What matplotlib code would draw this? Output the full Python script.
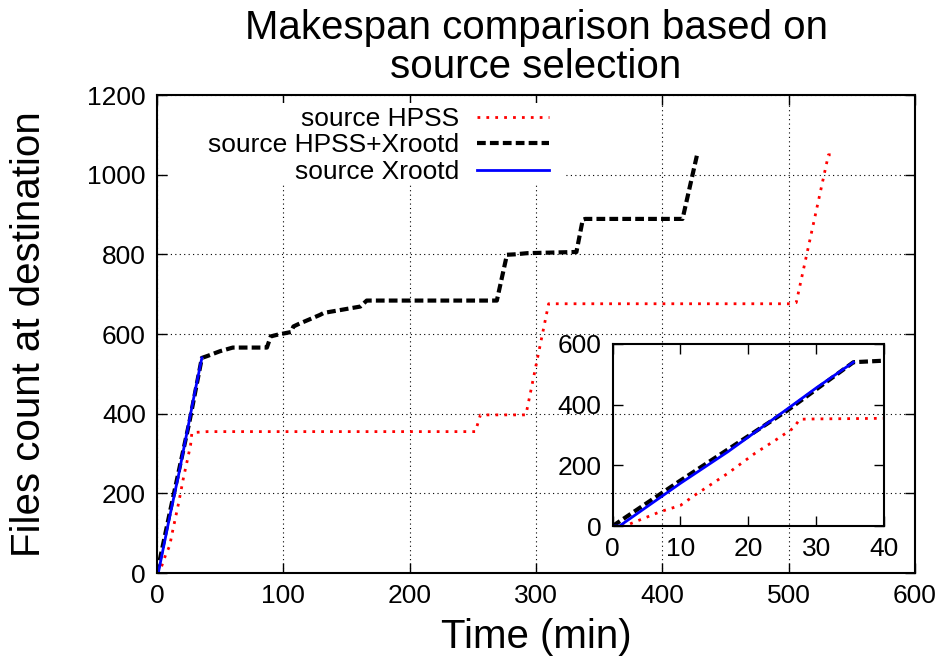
import matplotlib
matplotlib.use("Agg")
import matplotlib.pyplot as plt
from matplotlib.patches import Rectangle

plt.rcParams['font.family'] = ['Liberation Sans', 'DejaVu Sans']

# ---- data (time in minutes, cumulative files at destination) ----
hpss_t = [0, 2, 7, 10, 12, 17, 21, 24, 26.6, 27.6, 30, 40, 252, 256, 292, 310, 501, 506, 531.5, 535.5]
hpss_y = [0, 2, 47, 68, 100, 174, 240, 283, 322, 352, 353, 355, 355, 397, 397, 676, 676, 679, 1050, 1050]

mixed_t = [0, 10, 25.7, 35.5, 40, 50, 60, 87, 90, 95, 106, 108, 112, 129, 132, 161, 166, 269, 277, 283, 293, 332, 337, 339, 416, 427.5]
mixed_y = [0, 150, 380, 540, 545, 557, 566, 566, 594, 598, 605, 619, 625, 648, 653, 669, 684, 684, 799, 800, 803, 806, 887, 889, 889, 1050]

xroot_t = [0, 1, 10, 17, 25.7, 30, 35.5]
xroot_y = [0, 0, 141, 245, 385, 455, 540]

labels = ["source HPSS", "source HPSS+Xrootd", "source Xrootd"]
title = "Makespan comparison based on\nsource selection"
xlabel = "Time (min)"
ylabel = "Files count at destination"

fig = plt.figure(figsize=(9.43, 6.6), dpi=100)
ax = fig.add_axes([0.1665, 0.1318, 0.8038, 0.7242])
ax.set_axisbelow(True)

red_ls = (0, (1, 2.2))
blk_ls = (0, (2.1, 1.0))

ax.plot(hpss_t, hpss_y, color='red', lw=2, linestyle=red_ls, label=labels[0], zorder=3)
ax.plot(mixed_t, mixed_y, color='black', lw=3, linestyle=blk_ls, label=labels[1], zorder=3)
ax.plot(xroot_t, xroot_y, color='blue', lw=2, linestyle='-', label=labels[2], zorder=3)

ax.set_xlim(0, 600)
ax.set_ylim(0, 1200)
ax.set_xticks(range(0, 601, 100))
ax.set_yticks(range(0, 1201, 200))
ax.grid(True, color='black', linestyle=(0, (1, 3)), linewidth=0.8)
ax.tick_params(direction='in', top=True, right=True, length=7, width=1, labelsize=19, pad=8)
for s in ax.spines.values():
    s.set_linewidth(1.5)
    s.set_zorder(4)
ax.set_title(title, fontsize=29, linespacing=1.05, pad=12)
ax.set_xlabel(xlabel, fontsize=29, labelpad=7)
ax.set_ylabel(ylabel, fontsize=29, labelpad=28)

# white background behind the legend block (hides grid lines there)
ax.add_patch(Rectangle((0.015, 0.815), 0.523, 0.168, transform=ax.transAxes,
                       facecolor='white', edgecolor='none', zorder=1))

leg = ax.legend(loc='upper right', bbox_to_anchor=(0.534, 1.003), markerfirst=False,
                frameon=False, fontsize=19, handlelength=2.7, labelspacing=0.1,
                borderpad=0.0, handletextpad=0.68)
for t in leg.get_texts():
    t.set_ha('right')

# ---- inset ----
ins = fig.add_axes([0.6497, 0.203, 0.2877, 0.2758])
ins.patch.set_alpha(0)
ins.plot(hpss_t, hpss_y, color='red', lw=2, linestyle=red_ls)
ins.plot(mixed_t, mixed_y, color='black', lw=3, linestyle=blk_ls)
ins.plot(xroot_t, xroot_y, color='blue', lw=2, linestyle='-')
ins.set_xlim(0, 40)
ins.set_ylim(0, 600)
ins.set_xticks(range(0, 41, 10))
ins.set_yticks(range(0, 601, 200))
ins.tick_params(direction='in', top=True, right=True, length=7, width=1, labelsize=19, pad=8)
for s in ins.spines.values():
    s.set_linewidth(1.5)

fig.savefig("out.png", dpi=100)
